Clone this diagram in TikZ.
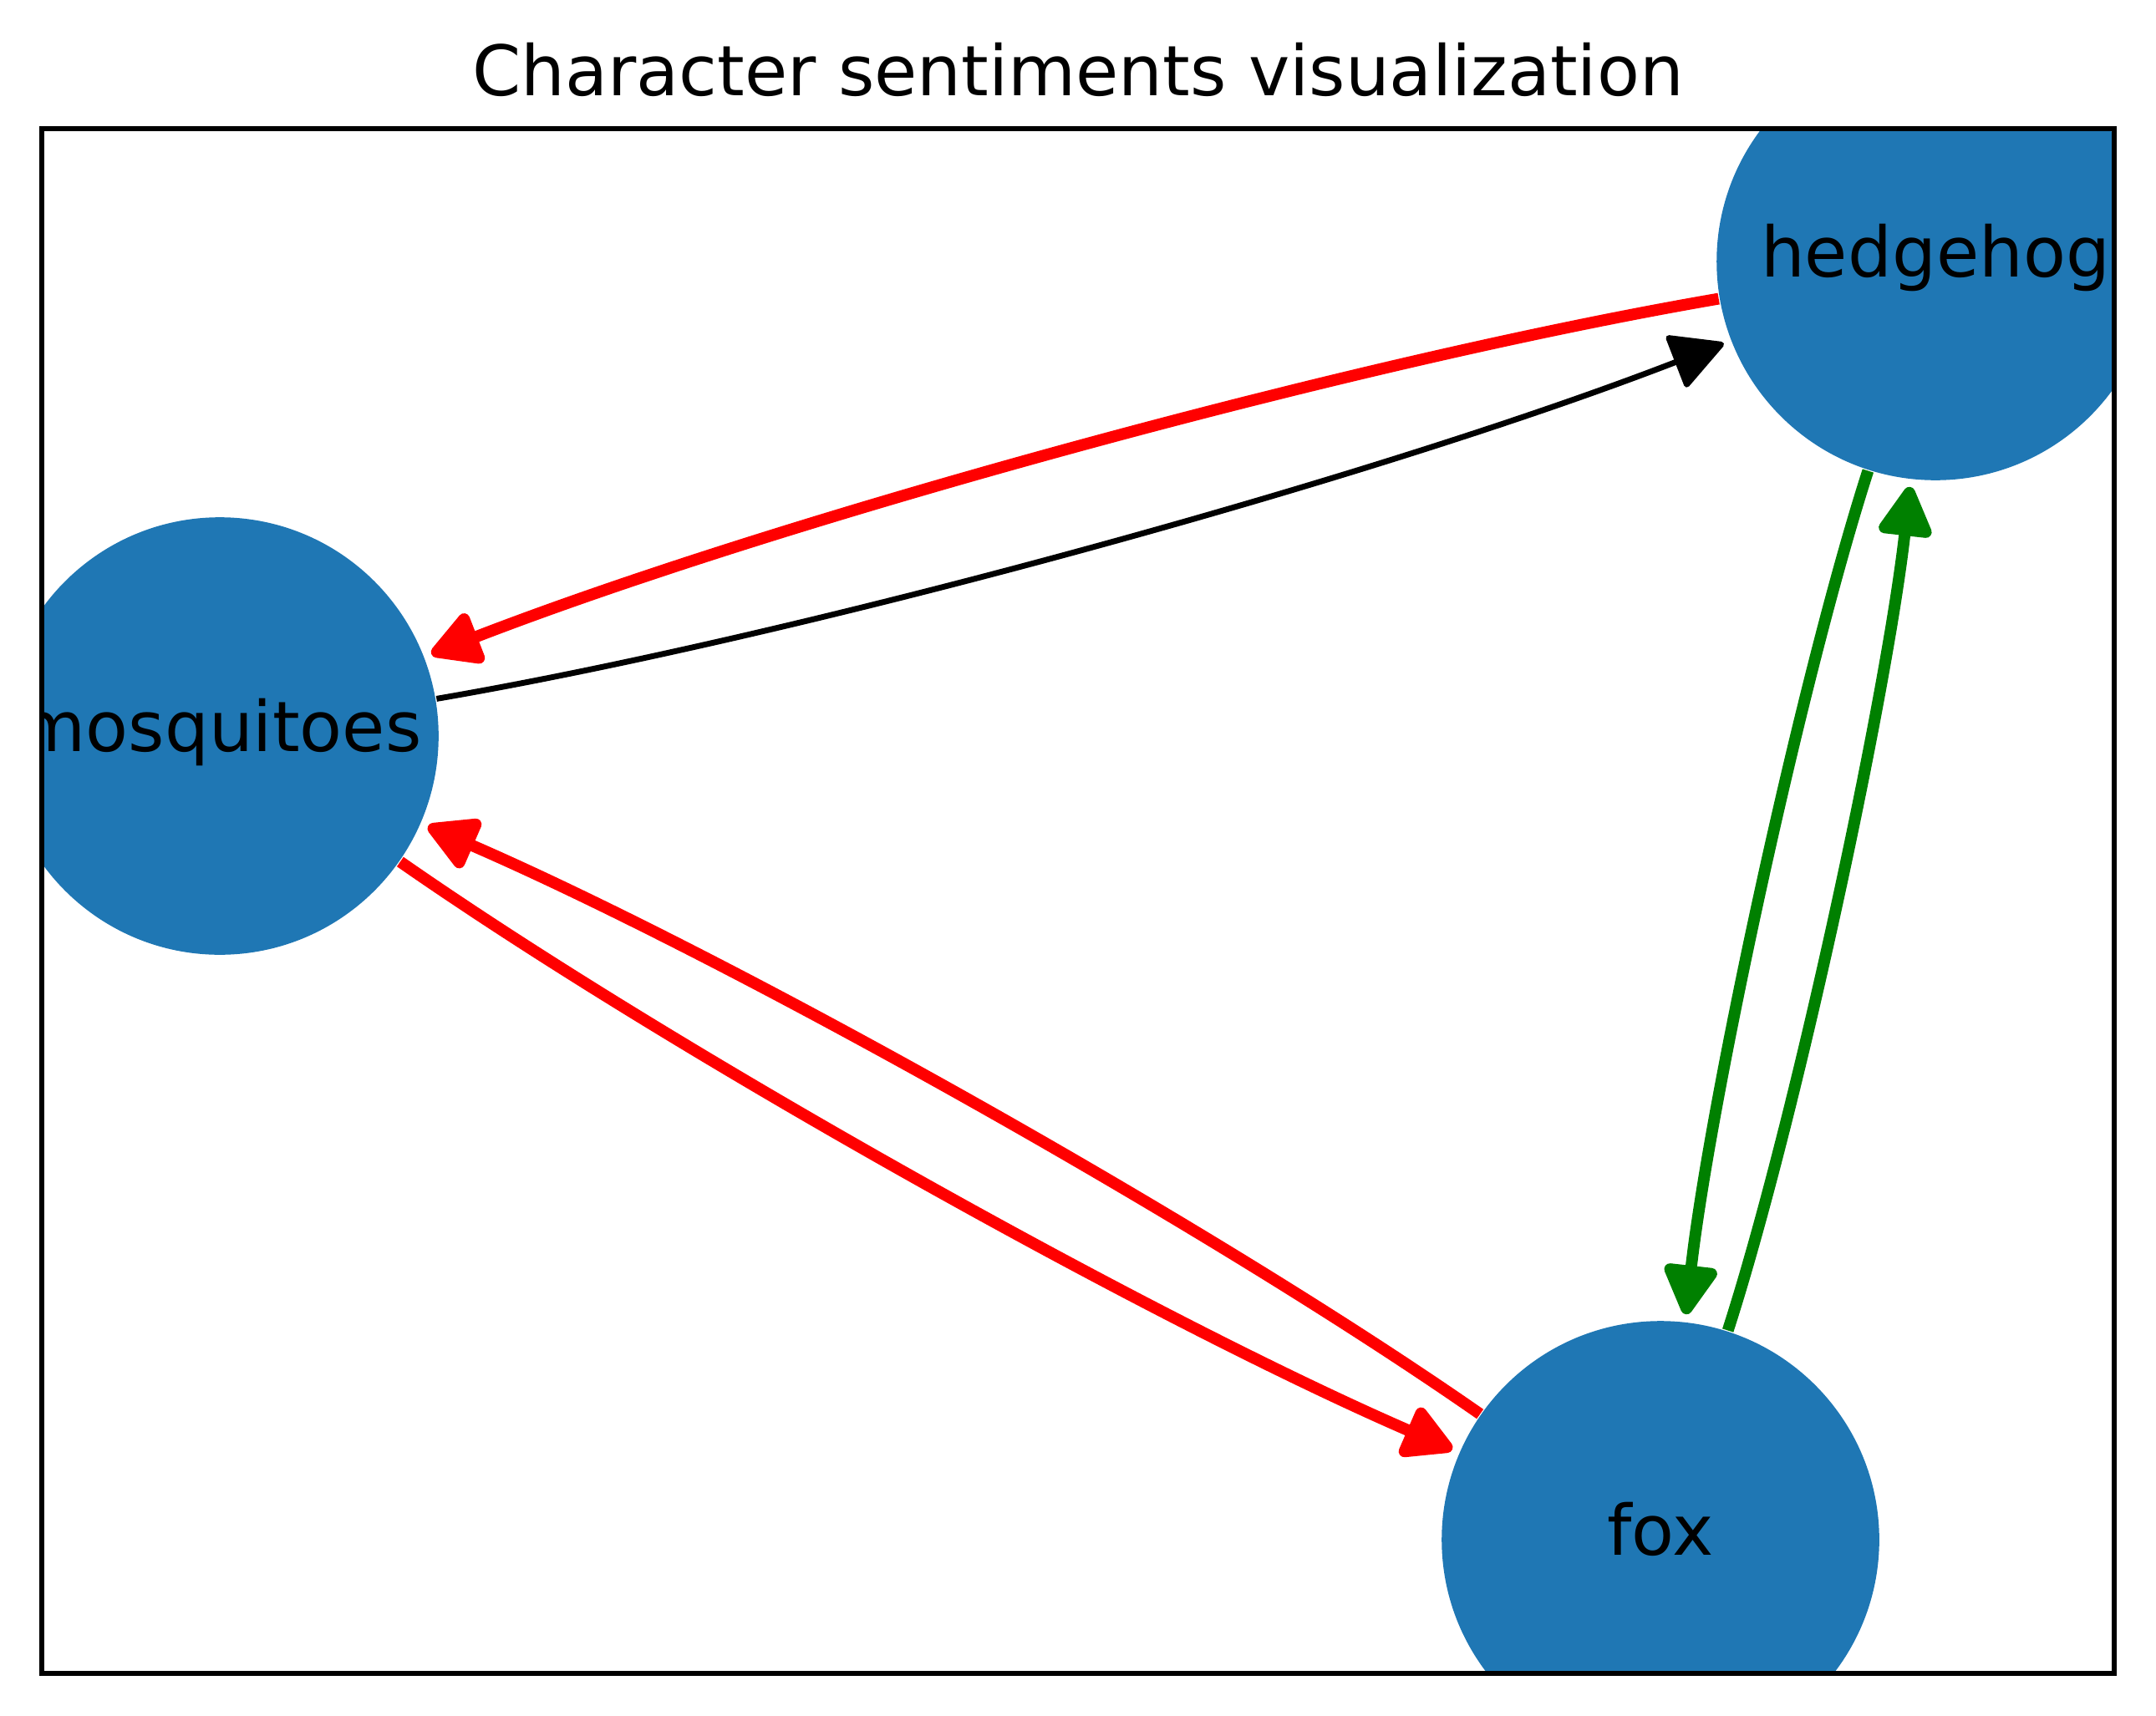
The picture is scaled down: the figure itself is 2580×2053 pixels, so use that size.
\documentclass[tikz,border=0pt]{standalone}
\usepackage{fontspec}
\setmainfont{DejaVu Sans}
\usetikzlibrary{calc,arrows.meta}
\definecolor{nodeblue}{HTML}{1F77B4}
\definecolor{posgreen}{HTML}{008000}
\pgfdeclarelayer{edges}
\pgfsetlayers{edges,main}
\tikzset{
% Character nodes and the sentiment edges between them
char node/.style={circle,fill=nodeblue,minimum size=75.4pt,inner sep=0pt,text height=0.76em,text depth=0.24em},
sent edge/.style={line width=2pt,-{Triangle[length=9.6pt,width=10pt,round]},shorten >=1.2pt},
neg edge/.style={sent edge,red},
pos edge/.style={sent edge,posgreen},
neutral edge/.style={sent edge,black,line width=1pt}
}

\begin{document}
\begin{tikzpicture}[x=0.144pt,y=0.144pt,font=\fontsize{12}{14}\selectfont]
\useasboundingbox (0,0) rectangle (2580,-2053);
% Axes frame and title
\coordinate (frame sw) at (50,-2003);
\coordinate (frame ne) at (2530,-154);
\node[anchor=base](title) at (1290,-115) {Character sentiments visualization};
% The characters
\begin{scope}
\clip (frame sw) rectangle (frame ne);
\node(hedgehog)[char node] at (2316,-313) {hedgehog};
\node(mosquitoes)[char node] at (263,-881) {mosquitoes};
\node(fox)[char node] at (1987,-1843) {fox};
\end{scope}
% Control points of the arcs
\coordinate (hm) at ($(hedgehog)!0.5!(mosquitoes)!0.1!-90:(mosquitoes)$);
\coordinate (mh) at ($(mosquitoes)!0.5!(hedgehog)!0.1!-90:(hedgehog)$);
\coordinate (mf) at ($(mosquitoes)!0.5!(fox)!0.1!-90:(fox)$);
\coordinate (fm) at ($(fox)!0.5!(mosquitoes)!0.1!-90:(mosquitoes)$);
\coordinate (hf) at ($(hedgehog)!0.5!(fox)!0.1!-90:(fox)$);
\coordinate (fh) at ($(fox)!0.5!(hedgehog)!0.1!-90:(hedgehog)$);
% The sentiments
\begin{pgfonlayer}{edges}
\draw[neg edge] (hedgehog) .. controls ($(hedgehog)!0.667!(hm)$) and ($(mosquitoes)!0.667!(hm)$) .. (mosquitoes);
\draw[neutral edge] (mosquitoes) .. controls ($(mosquitoes)!0.667!(mh)$) and ($(hedgehog)!0.667!(mh)$) .. (hedgehog);
\draw[neg edge] (mosquitoes) .. controls ($(mosquitoes)!0.667!(mf)$) and ($(fox)!0.667!(mf)$) .. (fox);
\draw[neg edge] (fox) .. controls ($(fox)!0.667!(fm)$) and ($(mosquitoes)!0.667!(fm)$) .. (mosquitoes);
\draw[pos edge] (hedgehog) .. controls ($(hedgehog)!0.667!(hf)$) and ($(fox)!0.667!(hf)$) .. (fox);
\draw[pos edge] (fox) .. controls ($(fox)!0.667!(fh)$) and ($(hedgehog)!0.667!(fh)$) .. (hedgehog);
\end{pgfonlayer}
\draw[line width=0.8pt] (frame sw) rectangle (frame ne);
\end{tikzpicture}
\end{document}
